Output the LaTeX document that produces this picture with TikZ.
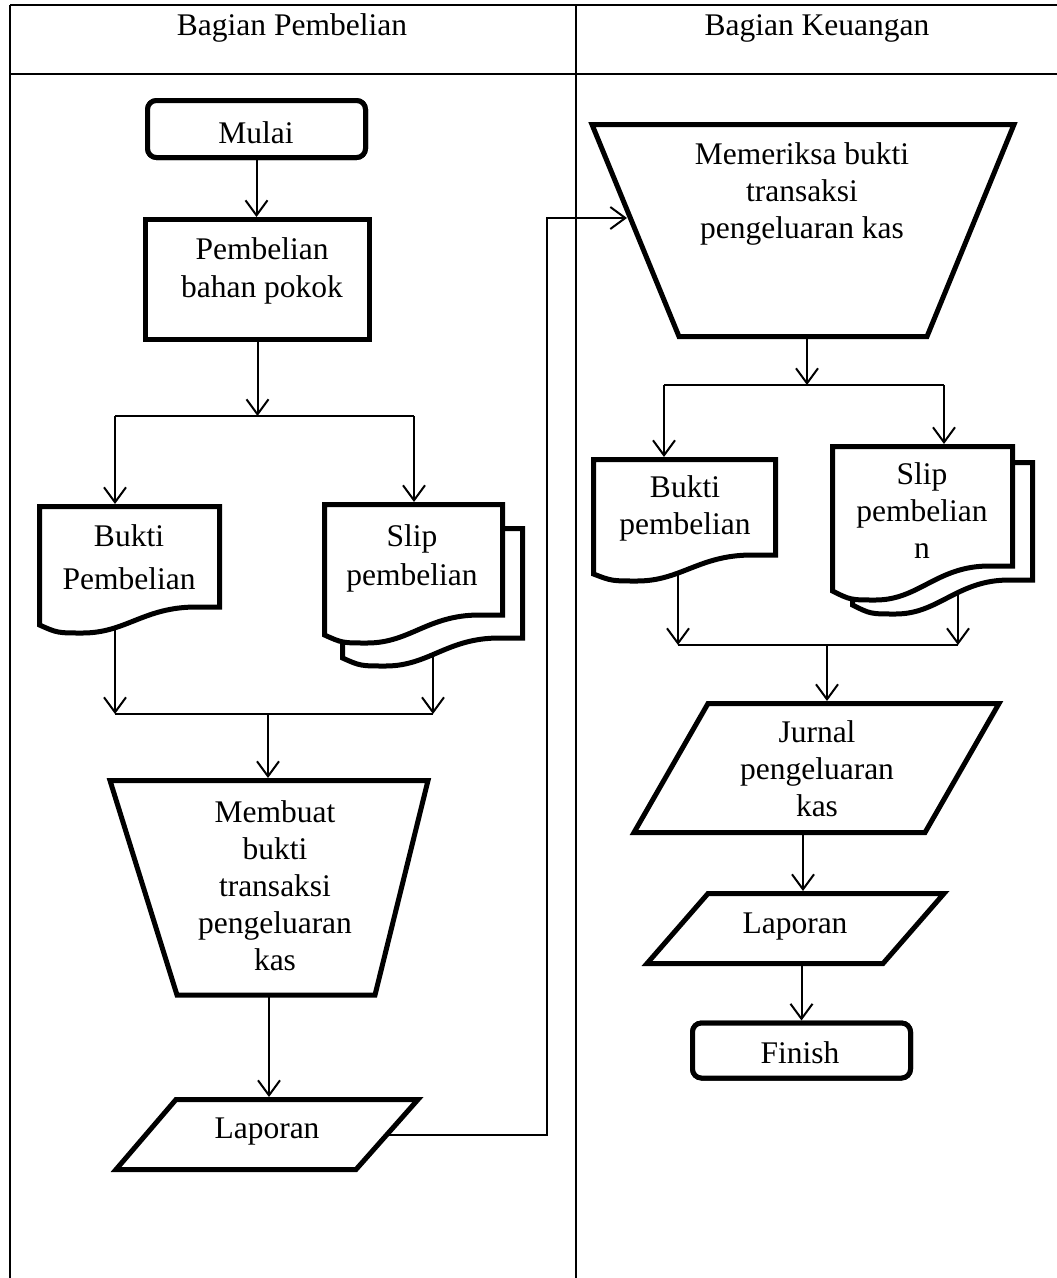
\documentclass[tikz,border=0pt]{standalone}
\usepackage{fontspec}
\setmainfont{Liberation Serif}
\usetikzlibrary{arrows.meta}
\newcommand\mlines[1]{\begin{tabular}[t]{@{}c@{}}#1\end{tabular}}
\newcommand\docshape[6]{%
  \pgfmathsetmacro\dcW{#2-#1}%
  \pgfmathsetmacro\dcA{#2-0.13*\dcW}%
  \pgfmathsetmacro\dcB{#2-0.42*\dcW}%
  \pgfmathsetmacro\dcC{#1+0.48*\dcW}%
  \pgfmathsetmacro\dcD{#1+0.24*\dcW}%
  \pgfmathsetmacro\dcE{#1+0.10*\dcW}%
  \draw[shp] (#1,#3) -- (#2,#3) -- (#2,#4) -- (\dcA,#4) .. controls (\dcB,#4) and (\dcC,#6) .. (\dcD,#6) .. controls (\dcE,#6) .. (#1,#5) -- cycle;}
\begin{document}
\begin{tikzpicture}[x=1pt,y=-1pt,
  shp/.style={line width=5pt, fill=white},
  conn/.style={line width=2pt},
  arr/.style={conn, -{Straight Barb[length=15pt,width=22pt]}},
  bb/.style={draw=none, rectangle, inner sep=0pt, outer sep=2.5pt},
  proc/.style={draw, line width=5pt, fill=white, rectangle, inner sep=0pt},
  term/.style={proc, rounded corners=9pt},
  txt/.style={font=\fontsize{31.5}{37}\selectfont, inner sep=0pt, anchor=base},
  tbl/.style={line width=2pt}]
\useasboundingbox (0,0) rectangle (1057,1278);
% table
\draw[tbl] (10,5) -- (1057,5);
\draw[tbl] (10,74) -- (1057,74);
\draw[tbl] (10,5) -- (10,1278);
\draw[tbl] (576,5) -- (576,1278);

% drawn process / terminal nodes
\node[term, minimum width=218pt, minimum height=57pt] (mulai) at (256.5,129) {};
\node[proc, minimum width=224pt, minimum height=120pt] (pemb) at (257.5,279.5) {};
\node[term, minimum width=218pt, minimum height=55pt] (finish) at (801.5,1050.5) {};

% bounding nodes for free-form shapes
\node[bb, minimum width=180pt, minimum height=126.5pt] (buktiL) at (129.5,569.75) {};
\node[bb, minimum width=178pt, minimum height=138.5pt] (slipL) at (413.5,573.75) {};
\node[bb, minimum width=318pt, minimum height=214.5pt] (membuat) at (269,887.75) {};
\node[bb, minimum width=302pt, minimum height=70pt] (lapL) at (267,1134.5) {};
\node[bb, minimum width=422pt, minimum height=212pt] (mem) at (803,230.5) {};
\node[bb, minimum width=182pt, minimum height=121.5pt] (buktiR) at (684.5,520.25) {};
\node[bb, minimum width=180pt, minimum height=153.5pt] (slipR) at (922.5,523.25) {};
\node[bb, minimum width=365pt, minimum height=129pt] (jurnal) at (816.5,768) {};
\node[bb, minimum width=297pt, minimum height=70pt] (lapR) at (795.5,928.5) {};

% junction coordinates
\coordinate (s1) at (257.5,416);
\coordinate (s1l) at (115,416);
\coordinate (s1r) at (414,416);
\coordinate (j2) at (268,714);
\coordinate (j2l) at (115,714);
\coordinate (j2r) at (433,714);
\coordinate (bend) at (547,1135);
\coordinate (memIn) at (627,218);
\coordinate (s2) at (807,385);
\coordinate (s2l) at (664,385);
\coordinate (s2r) at (944,385);
\coordinate (j3) at (827,645);
\coordinate (j3l) at (678,645);
\coordinate (j3r) at (958,645);

% connectors (drawn before shapes so their inner parts are hidden)
\draw[arr] (mulai.south) -- (mulai.south |- pemb.north);
\draw[arr] (pemb.south) -- (pemb.south |- s1);
\draw[conn] (s1l) -- (s1r);
\draw[arr] (s1l) -- (s1l |- buktiL.north);
\draw[arr] (s1r) -- (s1r |- slipL.north);
\draw[arr] (buktiL.center -| j2l) -- (j2l);
\draw[arr] (slipL.center -| j2r) -- (j2r);
\draw[conn] (j2l) -- (j2r);
\draw[arr] (j2) -- (j2 |- membuat.north);
\draw[arr] (membuat.center) -- (membuat.center |- lapL.north);
\draw[arr] (lapL.center |- bend) -- (bend) |- (memIn);

\draw[arr] (mem.center -| s2) -- (s2);
\draw[conn] (s2l) -- (s2r);
\draw[arr] (s2l) -- (s2l |- buktiR.north);
\draw[arr] (s2r) -- (s2r |- slipR.north);
\draw[arr] (buktiR.center -| j3l) -- (j3l);
\draw[arr] (slipR.center -| j3r) -- (j3r);
\draw[conn] (j3l) -- (j3r);
\draw[arr] (j3) -- (j3 |- jurnal.north);
\draw[arr] ([xshift=-13.5pt]jurnal.center) -- ([xshift=-13.5pt]jurnal.center |- lapR.north);
\draw[arr] (lapR.center -| finish.north) -- (finish.north);

% redraw process nodes on top
\node[term, minimum width=218pt, minimum height=57pt] at (mulai) {};
\node[proc, minimum width=224pt, minimum height=120pt] at (pemb) {};
\node[term, minimum width=218pt, minimum height=55pt] at (finish) {};

% free-form shapes
\docshape{39.5}{219.5}{506.5}{607}{625}{633}
\docshape{342.5}{522.5}{528.5}{638}{658}{666}
\docshape{324.5}{502.5}{504.5}{615}{635}{643}
\draw[shp] (110,780.5) -- (428,780.5) -- (375,995) -- (177,995) -- cycle;
\draw[shp] (176,1099.5) -- (418,1099.5) -- (356,1169.5) -- (116,1169.5) -- cycle;
\draw[shp] (592,124.5) -- (1014,124.5) -- (927,336.5) -- (679,336.5) -- cycle;
\docshape{593.5}{775.5}{459.5}{555}{574}{581}
\docshape{852.5}{1032.5}{462.5}{580}{605}{614}
\docshape{832.5}{1012.5}{446.5}{566}{591}{600}
\draw[shp] (708,703.5) -- (999,703.5) -- (925,832.5) -- (634,832.5) -- cycle;
\draw[shp] (708,893.5) -- (944,893.5) -- (883,963.5) -- (647,963.5) -- cycle;

% texts
\node[txt] (h1) at (292,35) {Bagian Pembelian};
\node[txt] (h2) at (817,35) {Bagian Keuangan};
\node[txt] (tMulai) at (256,143) {Mulai};
\node[txt] (tPemb) at (262,259) {\mlines{Pembelian\\[1pt]bahan pokok}};
\node[txt] (tBuktiL) at (129,546) {\mlines{Bukti\\[6pt]Pembelian}};
\node[txt] (tSlipL) at (412,546) {\mlines{Slip\\[2pt]pembelian}};
\node[txt] (tMembuat) at (275,822) {\mlines{Membuat\\bukti\\transaksi\\pengeluaran\\kas}};
\node[txt] (tLapL) at (267,1138) {Laporan};
\node[txt] (tMem) at (802,164) {\mlines{Memeriksa bukti\\transaksi\\pengeluaran kas}};
\node[txt] (tBuktiR) at (685,497) {\mlines{Bukti\\pembelian}};
\node[txt] (tSlipR) at (922,484) {\mlines{Slip\\pembelian\\n}};
\node[txt] (tJurnal) at (817,742) {\mlines{Jurnal\\pengeluaran\\kas}};
\node[txt] (tLapR) at (795,933) {Laporan};
\node[txt] (tFinish) at (800,1063) {Finish};
\end{tikzpicture}
\end{document}
